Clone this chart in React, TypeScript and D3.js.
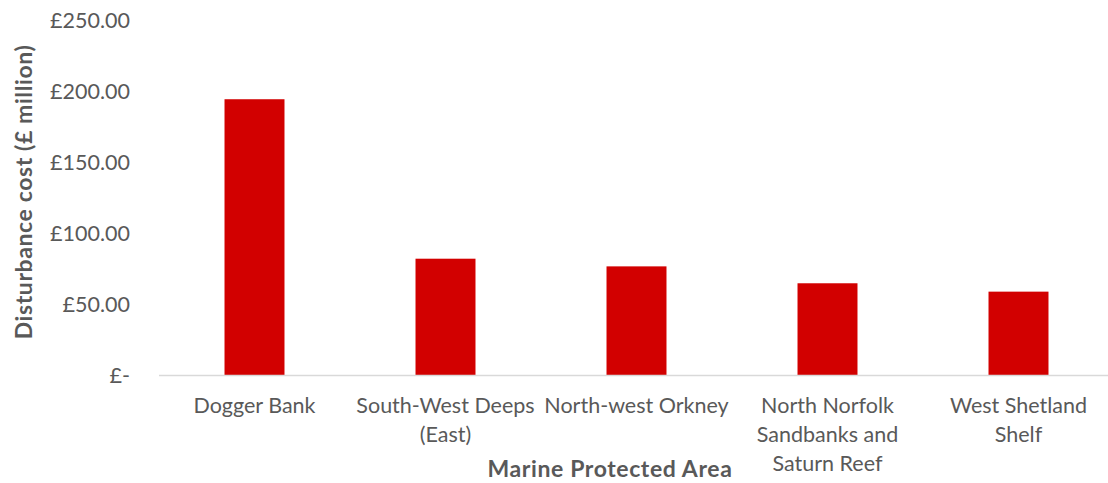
import React from "react";
import * as d3 from "d3";

// Disturbance cost per Marine Protected Area (£ million)
const categories = [
  "Dogger Bank",
  "South-West Deeps (East)",
  "North-west Orkney",
  "North Norfolk Sandbanks and Saturn Reef",
  "West Shetland Shelf",
];
const labelLines = [
  ["Dogger Bank"],
  ["South-West Deeps", "(East)"],
  ["North-west Orkney"],
  ["North Norfolk", "Sandbanks and", "Saturn Reef"],
  ["West Shetland", "Shelf"],
];
const costs = [194.2, 81.9, 76.5, 64.6, 58.7];
const yTicks = [0, 50, 100, 150, 200, 250];

const W = 1108;
const H = 483;
const FONT = "Lato, 'Open Sans', sans-serif";
const TEXT = "#595959";

const fmt = (v: number) => (v === 0 ? "£-" : "£" + d3.format(",.2f")(v));

export default function App() {
  const x = d3.scaleBand<string>().domain(categories).range([159, 1114]).paddingInner(0.686).paddingOuter(0.343);
  const y = d3.scaleLinear().domain([0, 250]).range([375, 20]);
  const cx = (c: string) => (x(c) as number) + x.bandwidth() / 2;

  return (
    <svg width={W} height={H} style={{ position: "absolute", left: 0, top: 0, background: "#fff" }}>
      {/* value axis labels */}
      {yTicks.map((t) => (
        <text key={t} x={130} y={y(t)} dy="0.35em" textAnchor="end" fontFamily={FONT} fontSize={21.5} fill={TEXT}>
          {fmt(t)}
        </text>
      ))}
      {/* bars */}
      {categories.map((c, i) => (
        <rect key={c} x={x(c)} y={y(costs[i])} width={x.bandwidth()} height={y(0) - y(costs[i])} fill="#D20000" />
      ))}
      {/* category axis line */}
      <line x1={159} x2={1114} y1={y(0) + 0.5} y2={y(0) + 0.5} stroke="#D9D9D9" strokeWidth={1.5} />
      {/* category labels */}
      {categories.map((c, i) => (
        <text key={c} x={cx(c)} y={405} textAnchor="middle" fontFamily={FONT} fontSize={21.5} fill={TEXT}>
          {labelLines[i].map((l, j) => (
            <tspan key={j} x={cx(c)} y={405 + j * 29} dy="0.35em">
              {l}
            </tspan>
          ))}
        </text>
      ))}
      {/* axis titles */}
      <text
        transform={`translate(24,192) rotate(-90)`}
        textAnchor="middle"
        dy="0.35em"
        fontFamily={FONT}
        fontSize={23}
        letterSpacing={0.6}
        fontWeight="bold"
        fill={TEXT}
      >
        Disturbance cost (£ million)
      </text>
      <text x={610} y={469} dy="0.35em" textAnchor="middle" fontFamily={FONT} fontSize={23} letterSpacing={0.6} fontWeight="bold" fill={TEXT}>
        Marine Protected Area
      </text>
    </svg>
  );
}
